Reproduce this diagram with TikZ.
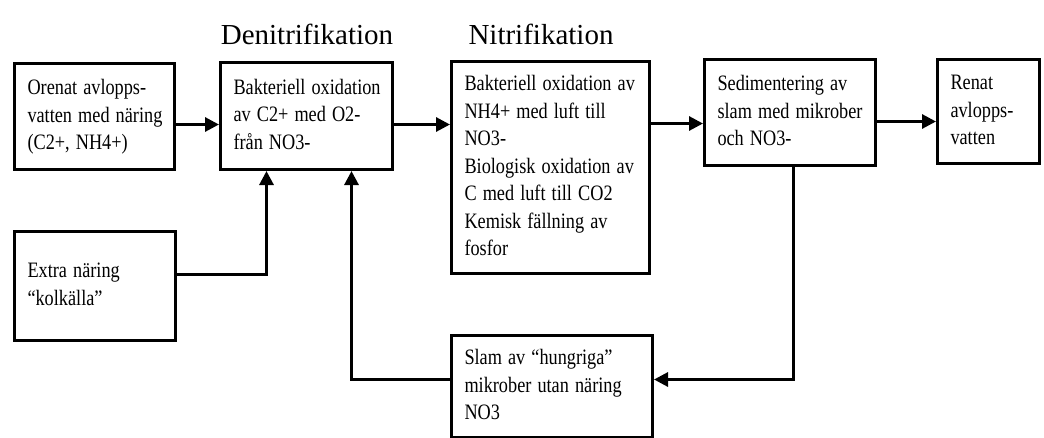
\documentclass[tikz,border=0pt]{standalone}
\usepackage{fontspec}
\usepackage{graphicx}
\setmainfont{Liberation Serif}
\usetikzlibrary{arrows.meta}
\newcommand{\stagetext}[1]{\scalebox{0.83}[1]{\begin{tabular}{@{}l@{}}#1\end{tabular}}}

\begin{document}
\begin{tikzpicture}[x=1pt, y=-1pt,
  stage/.style={draw, line width=3pt, anchor=north west, align=left, inner xsep=13pt,
    font=\fontsize{22}{27.5}\selectfont},
  heading/.style={anchor=base, font=\fontsize{29}{34}\selectfont},
  flow/.style={line width=3pt, -{Triangle[length=14pt,width=14pt]}}]
\useasboundingbox (0,0) rectangle (1044,437);
\node[heading] (denit) at (307,44) {Denitrifikation};
\node[heading] (nitr) at (541,44) {Nitrifikation};
% main line
\node[stage, text width=134pt, minimum height=106pt] (b1) at (13,62)
  {\stagetext{Orenat avlopps-\\vatten med näring\\(C2+, NH4+)}};
\node[stage, text width=146pt, minimum height=107pt] (b2) at (219,61)
  {\stagetext{Bakteriell oxidation\\av C2+ med O2-\\från NO3-}};
\node[stage, text width=172pt, minimum height=212pt] (b3) at (450,60)
  {\stagetext{Bakteriell oxidation av\\NH4+ med luft till\\NO3-\\Biologisk oxidation av\\C med luft till CO2\\Kemisk fällning av\\fosfor}};
\node[stage, text width=145pt, minimum height=106pt] (b4) at (703,58)
  {\stagetext{Sedimentering av\\slam med mikrober\\och NO3-}};
\node[stage, text width=76pt, minimum height=104pt] (b5) at (936,58)
  {\stagetext{Renat\\avlopps-\\vatten}};
% feeds
\node[stage, text width=135pt, minimum height=109pt] (b6) at (13,230)
  {\stagetext{Extra näring\\``kolkälla''}};
\node[stage, text width=175pt, minimum height=102pt] (b7) at (450,334)
  {\stagetext{Slam av ``hungriga''\\mikrober utan näring\\NO3}};
\foreach \a/\b/\s in {b1/b2/-8pt, b2/b3/-8.5pt, b3/b4/44pt, b4/b5/-9pt} {
  \draw[flow] ([yshift=\s]\a.east) -- ([yshift=\s]\a.east -| \b.west);
}
\draw[flow] ([yshift=11.5pt]b6.east) -| ([xshift=-40pt]b2.south);
\draw[flow] ([yshift=7pt]b7.west) -| ([xshift=45pt]b2.south);
\draw[flow] ([xshift=3.5pt]b4.south) |- ([yshift=7pt]b7.east);
\end{tikzpicture}
\end{document}
